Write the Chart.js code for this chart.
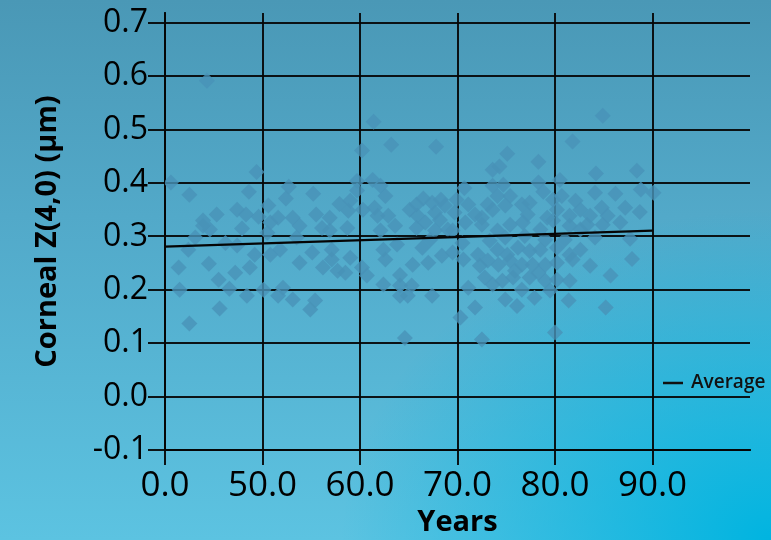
<!DOCTYPE html>
<html>
<head>
<meta charset="utf-8">
<script src="https://cdn.jsdelivr.net/npm/chart.js@4.4.1/dist/chart.umd.min.js"></script>
<style>
html,body{margin:0;padding:0;}
body{width:771px;height:540px;overflow:hidden;
background:
 radial-gradient(ellipse 430px 330px at 771px 540px, rgba(0,180,224,1) 0%, rgba(0,180,224,0.55) 45%, rgba(0,180,224,0) 100%),
 linear-gradient(to bottom, #4a98b6 0%, #52a9c9 40%, #5cc3e1 100%);
}
#wrap{position:relative;width:771px;height:540px;}
</style>
</head>
<body>
<div id="wrap"><canvas id="c" width="771" height="540"></canvas></div>
<script>
// ---- data ----
const ages = [
40.6,44.3,42.5,45.3,43.9,43.9,44.6,43.1,42.4,41.4,44.5,41.5,42.5,45.5,47.2,46.6,45.6,47.4,48.3,48.6,
49.4,49.6,47.9,47.4,48.7,49.2,48.4,50.5,50.8,50.6,50.1,51.6,51.6,52.1,52.4,52.7,53.1,53.1,53.5,53.8,
55.1,55.2,55.5,55.4,54.9,56.2,56.1,56.9,57.9,58.8,58.7,57.1,57.1,57.7,58.5,59.0,59.0,59.7,59.7,60.2,
61.4,61.3,62.1,62.6,60.3,61.5,61.8,62.9,62.1,63.2,60.2,60.7,62.4,62.6,63.8,62.4,64.1,64.1,65.3,64.1,
64.9,64.6,65.4,65.8,66.5,67.4,68.3,68.7,65.9,67.7,65.8,66.7,67.7,69.0,66.4,67.0,68.4,69.5,67.4,67.8,
69.9,69.5,70.7,71.1,71.8,73.1,73.6,73.6,72.5,70.8,72.5,70.5,70.6,72.1,72.3,73.1,71.1,71.8,70.3,72.5,
73.6,74.3,75.1,74.7,74.1,75.4,73.6,74.9,76.6,77.4,77.2,78.3,78.3,78.8,79.2,79.8,80.2,74.1,75.4,76.7,
79.8,74.1,75.1,76.2,77.4,78.5,80.2,74.2,75.4,76.6,77.7,79.0,80.2,74.6,75.7,77.4,79.0,80.2,74.9,76.6,
76.1,77.9,80.0,80.5,80.7,82.1,82.6,81.5,83.6,84.8,85.4,88.7,81.8,84.9,84.2,88.4,88.8,90.1,81.5,83.3,
84.9,87.7,81.5,82.6,81.8,83.6,87.9,81.5,85.7,81.4,85.2,
74.9,76.9,79.0,75.9,78.3,79.5,73.3,72.8,78.5,81.0,69.7,65.1,68.2,63.6,67.2,56.9,53.8,50.8,46.2,51.8,
82.6,84.1,86.7,87.2,84.1,86.2
];
const z40 = [
0.401,0.592,0.378,0.341,0.330,0.320,0.313,0.298,0.275,0.242,0.249,0.200,0.137,0.219,0.232,0.202,0.165,0.350,0.341,0.384,
0.421,0.337,0.315,0.283,0.242,0.266,0.189,0.307,0.266,0.358,0.200,0.335,0.189,0.204,0.371,0.393,0.335,0.182,0.298,0.251,
0.270,0.380,0.341,0.180,0.163,0.242,0.316,0.311,0.361,0.348,0.316,0.275,0.257,0.236,0.232,0.260,0.367,0.404,0.386,0.461,
0.515,0.406,0.395,0.376,0.350,0.354,0.339,0.339,0.311,0.472,0.242,0.227,0.275,0.257,0.285,0.210,0.228,0.208,0.208,0.189,
0.189,0.110,0.247,0.360,0.371,0.363,0.369,0.358,0.339,0.345,0.316,0.326,0.311,0.313,0.279,0.251,0.264,0.270,0.189,0.468,
0.369,0.311,0.391,0.360,0.341,0.360,0.395,0.425,0.335,0.326,0.322,0.288,0.257,0.266,0.245,0.255,0.204,0.167,0.148,0.107,
0.210,0.431,0.455,0.397,0.376,0.376,0.350,0.358,0.360,0.363,0.341,0.440,0.401,0.384,0.335,0.369,0.350,0.311,0.322,0.326,
0.330,0.275,0.266,0.279,0.273,0.275,0.279,0.247,0.255,0.247,0.247,0.247,0.251,0.217,0.223,0.223,0.217,0.219,0.182,0.200,
0.170,0.185,0.120,0.406,0.376,0.367,0.350,0.339,0.339,0.354,0.339,0.346,0.478,0.526,0.418,0.423,0.388,0.382,0.320,0.322,
0.322,0.296,0.266,0.275,0.257,0.245,0.258,0.217,0.227,0.180,0.167,
0.298,0.301,0.294,0.236,0.232,0.199,0.292,0.223,0.313,0.294,0.345,0.350,0.331,0.320,0.294,0.335,0.320,0.326,0.288,0.275,
0.313,0.298,0.326,0.354,0.382,0.380
];
const avgAges = [40, 90];
const avgValues = [0.281, 0.311];
const xTickValues = [40, 50, 60, 70, 80, 90, 100];
const xTickLabels = ['0.0', '50.0', '60.0', '70.0', '80.0', '90.0', ''];
const yTickValues = [-0.1, 0, 0.1, 0.2, 0.3, 0.4, 0.5, 0.6, 0.7];
const yTickLabels = ['-0.1', '0.0', '0.1', '0.2', '0.3', '0.4', '0.5', '0.6', '0.7'];

// ---- chart ----
const legendPlugin = {
  id: 'avgLegend',
  afterDraw(chart) {
    const ctx = chart.ctx;
    const ds = chart.data.datasets[1];
    ctx.save();
    ctx.strokeStyle = '#111';
    ctx.lineWidth = 2.5;
    ctx.beginPath();
    ctx.moveTo(663, 383);
    ctx.lineTo(683, 383);
    ctx.stroke();
    ctx.fillStyle = '#111';
    ctx.font = '600 19px "Open Sans"';
    ctx.textBaseline = 'middle';
    ctx.textAlign = 'left';
    ctx.fillText(ds.label, 691, 383);
    ctx.restore();
  }
};

const gridColor = 'rgba(5,5,5,0.92)';
new Chart(document.getElementById('c'), {
  type: 'scatter',
  data: {
    datasets: [
      {
        label: 'Data',
        data: ages.map((a, i) => ({x: a, y: z40[i]})),
        pointStyle: 'rectRot',
        pointRadius: 8,
        pointHoverRadius: 8,
        backgroundColor: 'rgba(72,146,184,0.8)',
        borderWidth: 0,
        order: 2
      },
      {
        type: 'line',
        label: 'Average',
        data: avgAges.map((a, i) => ({x: a, y: avgValues[i]})),
        borderColor: '#050505',
        borderWidth: 2.3,
        pointRadius: 0,
        fill: false,
        showLine: true,
        order: 1
      }
    ]
  },
  options: {
    responsive: false,
    animation: false,
    events: [],
    layout: {padding: {left: 0, right: 21, top: 13, bottom: 0}},
    plugins: {legend: {display: false}, tooltip: {enabled: false}},
    scales: {
      x: {
        type: 'linear', min: 40, max: 100,
        afterBuildTicks: s => { s.ticks = xTickValues.map(v => ({value: v})); },
        afterFit: s => { s.height = 90; s.paddingLeft = 0; s.paddingRight = 0; },
        ticks: {
          callback: (v, i) => xTickLabels[i],
          font: {family: 'Open Sans', size: 35},
          color: '#000', padding: 0, maxRotation: 0, autoSkip: false
        },
        grid: {
          color: c => (c.tick && c.tick.value === 100) ? 'rgba(0,0,0,0)' : gridColor,
          lineWidth: 2, tickLength: 15, drawTicks: true
        },
        border: {color: gridColor, width: 2},
        title: {
          display: true, text: 'Years', color: '#000',
          font: {family: 'Open Sans', size: 29, weight: 'bold'},
          padding: {top: 0, bottom: 0}
        }
      },
      y: {
        min: -0.1, max: 0.7187,
        afterBuildTicks: s => { s.ticks = yTickValues.map(v => ({value: v})); },
        afterFit: s => { s.width = 165; s.paddingTop = 0; s.paddingBottom = 0; },
        ticks: {
          callback: (v, i) => yTickLabels[i],
          font: {family: 'Open Sans', size: 32},
          color: '#000', padding: 0, autoSkip: false
        },
        grid: {color: gridColor, lineWidth: 2, tickLength: 17, drawTicks: true},
        border: {color: gridColor, width: 2},
        title: {
          display: true, text: 'Corneal Z(4,0) (μm)', color: '#000',
          font: {family: 'Open Sans', size: 29, weight: 'bold'},
          align: 'center',
          padding: {top: 30, bottom: 0}
        }
      }
    }
  },
  plugins: [legendPlugin]
});
</script>
</body>
</html>
